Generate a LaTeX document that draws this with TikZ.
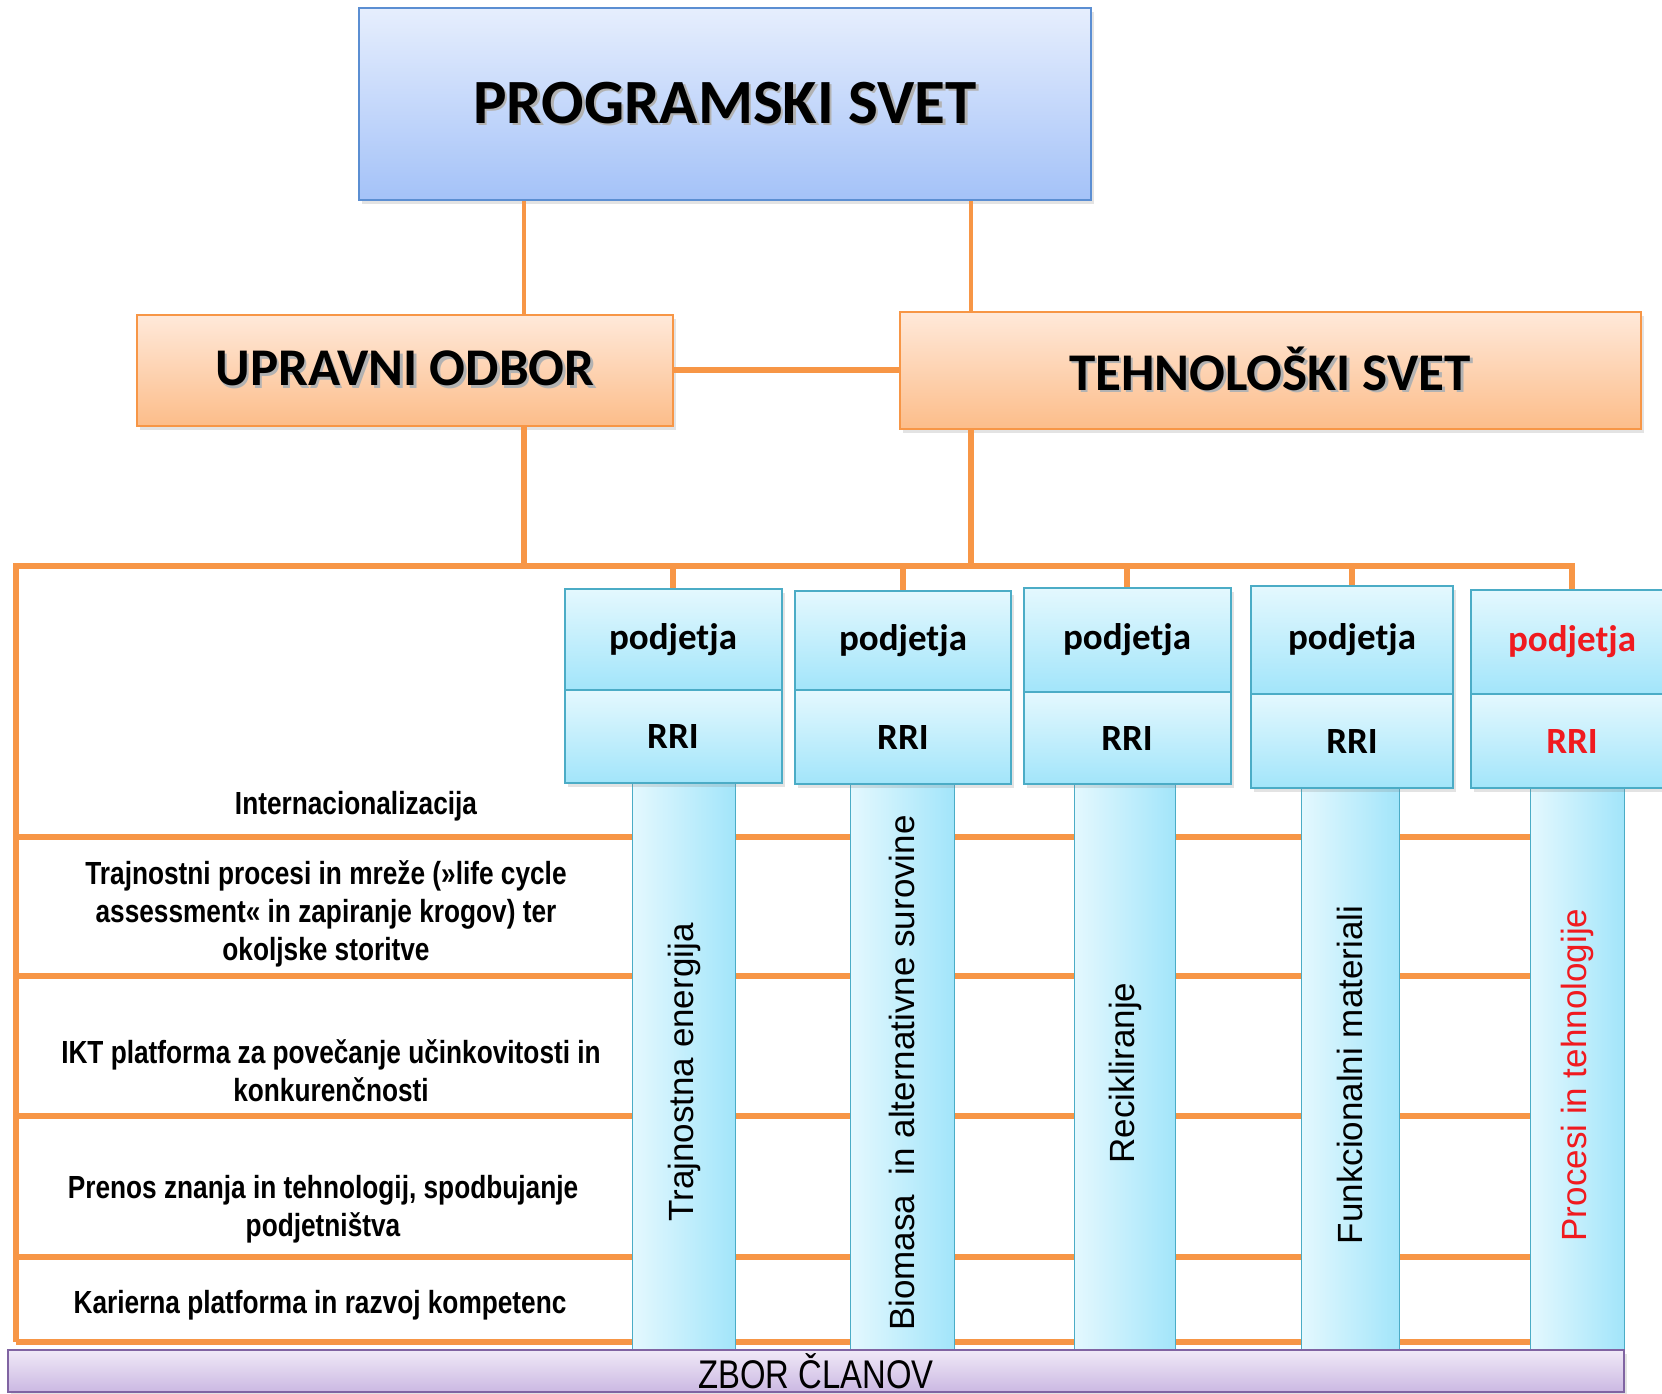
\documentclass[tikz,border=0pt]{standalone}
\usepackage{fontspec}
\setmainfont{Carlito}
\newfontfamily\arialfont{Liberation Sans}
\newfontfamily\narrowfont[FakeStretch=0.82]{Liberation Sans}
\usetikzlibrary{shadows,calc}
\definecolor{progtop}{HTML}{E6EEFD}
\definecolor{progbot}{HTML}{A4C2F8}
\definecolor{progline}{HTML}{5B8ED2}
\definecolor{oratop}{HTML}{FFE9DA}
\definecolor{orabot}{HTML}{FCBD8A}
\definecolor{oraline}{HTML}{F79646}
\definecolor{cytop}{HTML}{E4F8FE}
\definecolor{cybot}{HTML}{A2E5FA}
\definecolor{cyline}{HTML}{4BACC6}
\definecolor{lavtop}{HTML}{F0E9F7}
\definecolor{lavbot}{HTML}{CBB8E2}
\definecolor{lavline}{HTML}{8064A2}
\definecolor{hot}{HTML}{F01A1F}
\newcommand\shadowed[1]{\makebox[0pt][l]{\hspace{2.5pt}\raisebox{-2.5pt}{\color{black!30}#1}}#1}
\tikzset{
  base/.style={inner sep=0pt, align=center, text=black},
  board/.style={base, draw=#1line, top color=#1top, bottom color=#1bot, line width=2pt,
    drop shadow={shadow xshift=3pt, shadow yshift=-4pt, opacity=0.22}},
  cell/.style={board=cy, font=\fontsize{37}{40}\selectfont\bfseries},
  bar/.style={base, draw=cyline, line width=1pt, left color=cytop, right color=cybot},
  coltext/.style={base, rotate=90, font=\fontsize{35}{40}\arialfont\selectfont},
  rowlab/.style={base, font=\fontsize{32}{38}\narrowfont\bfseries\selectfont},
  link/.style={draw=oraline, line width=4pt},
  bus/.style={draw=oraline, line width=6pt, line join=miter},
  rowline/.style={draw=oraline, line width=5.5pt},
}
\begin{document}
\begin{tikzpicture}[x=1pt, y=-1pt]
  \useasboundingbox (0,0) rectangle (1662,1394);
  \clip (0,0) rectangle (1662,1394);
  % councils
  \node[board=prog, minimum width=732pt, minimum height=191pt, font=\fontsize{63}{70}\selectfont\bfseries] (prog) at (725,104) {\shadowed{PROGRAMSKI SVET}};
  \node[board=ora, minimum width=536pt, minimum height=111pt, font=\fontsize{53}{60}\selectfont\bfseries] (uo) at (405,370) {\shadowed{UPRAVNI ODBOR}};
  \node[board=ora, minimum width=741pt, minimum height=117pt, font=\fontsize{53}{60}\selectfont\bfseries] (ts) at (1270,370) {\shadowed{TEHNOLOŠKI SVET}};
  \coordinate (jl) at (524,0);
  \coordinate (jr) at (971,0);
  \coordinate (busL) at (16,566);
  \foreach \k/\y in {1/837,2/976,3/1116,4/1257,5/1342}
    \coordinate (h\k) at (16,\y);
  % columns with their boxes
  \foreach \i/\cx/\w/\ya/\yb/\yc/\bx/\bw/\txt/\tc in {
      1/673/217/589/690/783/684/103/Trajnostna energija/black,
      2/903/216/591/690/784/902/104/Biomasa~ in alternativne surovine/black,
      3/1127/207/588/692/784/1125/101/Recikliranje/black,
      4/1352/202/586/694/788/1350/98/Funkcionalni materiali/black,
      5/1572/202/590/694/788/1577/94/Procesi in tehnologije/hot} {
    \node[bar, minimum width=\bw pt, minimum height={1350-\yc+4}] (col\i) at (\bx,{(\yc-4+1350)/2}) {};
    \node[coltext, text=\tc] (lab\i) at ([yshift=-8pt]col\i.center) {\txt};
    \node[cell, minimum width=\w pt, minimum height={\yb-\ya}, text=\tc] (pod\i) at (\cx,{(\ya+\yb)/2}) {podjetja};
    \node[cell, minimum width=\w pt, minimum height={\yc-\yb}, text=\tc] (rri\i) at (\cx,{(\yb+\yc)/2}) {RRI};
  }
  \node[board=lav, minimum width=1616pt, minimum height=42pt, font=\fontsize{40}{42}\narrowfont\selectfont] (zbor) at (816,1371) {\raisebox{-1pt}{ZBOR ČLANOV}};
  % row labels
  \node[rowlab] (r1) at (356,806) {Internacionalizacija};
  \node[rowlab] (r2) at (326,914) {Trajnostni procesi in mreže (»life cycle\\assessment« in  zapiranje krogov) ter\\okoljske  storitve};
  \node[rowlab] (r3) at (331,1071) {IKT platforma za povečanje učinkovitosti in\\konkurenčnosti};
  \node[rowlab] (r4) at (323,1209) {Prenos znanja in tehnologij, spodbujanje\\podjetništva};
  \node[rowlab] (r5) at (320,1305) {Karierna platforma in razvoj kompetenc};
  % connectors
  \draw[link] (prog.south -| jl) -- (uo.north -| jl);
  \draw[link] (prog.south -| jr) -- (ts.north -| jr);
  \draw[link, line width=6pt] (uo.east) -- (ts.west);
  \draw[bus] (uo.south -| jl) -- (busL -| jl);
  \draw[bus] (ts.south -| jr) -- (busL -| jr);
  \draw[bus] (h5) -- (busL) -- (busL -| pod5.north) -- (pod5.north);
  \foreach \i in {1,...,4}
    \draw[bus] (busL -| pod\i.north) -- (pod\i.north);
  \foreach \k in {1,...,5} {
    \draw[rowline] (h\k) -- (col1.west |- h\k);
    \foreach \a/\b in {1/2,2/3,3/4,4/5}
      \draw[rowline] (col\a.east |- h\k) -- (col\b.west |- h\k);
  }
\end{tikzpicture}
\end{document}
